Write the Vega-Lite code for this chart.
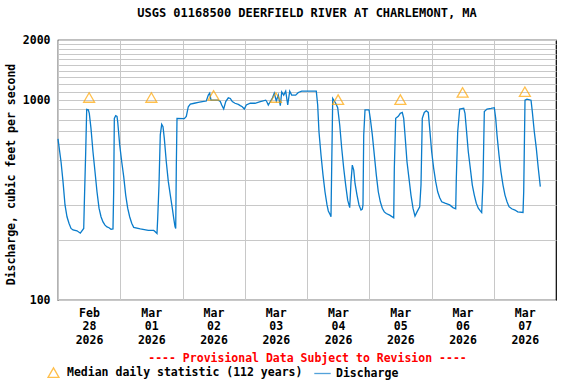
{
  "$schema": "https://vega.github.io/schema/vega-lite/v6.json",
  "width": 498,
  "height": 260,
  "autosize": {"type": "none"},
  "padding": {"left": 58, "top": 40, "right": 20, "bottom": 84},
  "background": "white",
  "title": {"text": "USGS 01168500 DEERFIELD RIVER AT CHARLEMONT, MA", "fontSize": 12, "fontWeight": "bold", "font": "DejaVu Sans Mono", "anchor": "middle", "offset": 14, "color": "black"},
  "data": {"values": [
    {"time": "2026-02-28T00:00", "cfs": 640, "series": "Discharge"},
    {"time": "2026-02-28T01:10", "cfs": 492, "series": "Discharge"},
    {"time": "2026-02-28T01:56", "cfs": 391, "series": "Discharge"},
    {"time": "2026-02-28T02:42", "cfs": 299, "series": "Discharge"},
    {"time": "2026-02-28T03:28", "cfs": 261, "series": "Discharge"},
    {"time": "2026-02-28T04:14", "cfs": 242, "series": "Discharge"},
    {"time": "2026-02-28T05:01", "cfs": 228, "series": "Discharge"},
    {"time": "2026-02-28T05:47", "cfs": 224, "series": "Discharge"},
    {"time": "2026-02-28T07:20", "cfs": 222, "series": "Discharge"},
    {"time": "2026-02-28T08:36", "cfs": 216, "series": "Discharge"},
    {"time": "2026-02-28T09:55", "cfs": 228, "series": "Discharge"},
    {"time": "2026-02-28T10:08", "cfs": 299, "series": "Discharge"},
    {"time": "2026-02-28T10:41", "cfs": 552, "series": "Discharge"},
    {"time": "2026-02-28T11:04", "cfs": 900, "series": "Discharge"},
    {"time": "2026-02-28T11:41", "cfs": 895, "series": "Discharge"},
    {"time": "2026-02-28T12:04", "cfs": 859, "series": "Discharge"},
    {"time": "2026-02-28T12:43", "cfs": 722, "series": "Discharge"},
    {"time": "2026-02-28T13:29", "cfs": 552, "series": "Discharge"},
    {"time": "2026-02-28T14:16", "cfs": 438, "series": "Discharge"},
    {"time": "2026-02-28T15:02", "cfs": 348, "series": "Discharge"},
    {"time": "2026-02-28T15:49", "cfs": 288, "series": "Discharge"},
    {"time": "2026-02-28T16:35", "cfs": 261, "series": "Discharge"},
    {"time": "2026-02-28T17:21", "cfs": 246, "series": "Discharge"},
    {"time": "2026-02-28T18:07", "cfs": 237, "series": "Discharge"},
    {"time": "2026-02-28T18:53", "cfs": 232, "series": "Discharge"},
    {"time": "2026-02-28T19:40", "cfs": 230, "series": "Discharge"},
    {"time": "2026-02-28T20:26", "cfs": 226, "series": "Discharge"},
    {"time": "2026-02-28T21:12", "cfs": 227, "series": "Discharge"},
    {"time": "2026-02-28T21:28", "cfs": 348, "series": "Discharge"},
    {"time": "2026-02-28T21:43", "cfs": 811, "series": "Discharge"},
    {"time": "2026-02-28T22:15", "cfs": 836, "series": "Discharge"},
    {"time": "2026-02-28T22:45", "cfs": 830, "series": "Discharge"},
    {"time": "2026-02-28T23:01", "cfs": 780, "series": "Discharge"},
    {"time": "2026-02-28T23:47", "cfs": 597, "series": "Discharge"},
    {"time": "2026-03-01T00:34", "cfs": 492, "series": "Discharge"},
    {"time": "2026-03-01T01:20", "cfs": 414, "series": "Discharge"},
    {"time": "2026-03-01T02:06", "cfs": 335, "series": "Discharge"},
    {"time": "2026-03-01T02:52", "cfs": 288, "series": "Discharge"},
    {"time": "2026-03-01T03:38", "cfs": 261, "series": "Discharge"},
    {"time": "2026-03-01T04:25", "cfs": 242, "series": "Discharge"},
    {"time": "2026-03-01T05:11", "cfs": 231, "series": "Discharge"},
    {"time": "2026-03-01T07:44", "cfs": 227, "series": "Discharge"},
    {"time": "2026-03-01T10:49", "cfs": 223, "series": "Discharge"},
    {"time": "2026-03-01T12:54", "cfs": 223, "series": "Discharge"},
    {"time": "2026-03-01T13:24", "cfs": 220, "series": "Discharge"},
    {"time": "2026-03-01T14:10", "cfs": 215, "series": "Discharge"},
    {"time": "2026-03-01T14:26", "cfs": 256, "series": "Discharge"},
    {"time": "2026-03-01T14:56", "cfs": 376, "series": "Discharge"},
    {"time": "2026-03-01T15:26", "cfs": 670, "series": "Discharge"},
    {"time": "2026-03-01T15:59", "cfs": 757, "series": "Discharge"},
    {"time": "2026-03-01T16:29", "cfs": 737, "series": "Discharge"},
    {"time": "2026-03-01T16:59", "cfs": 644, "series": "Discharge"},
    {"time": "2026-03-01T17:45", "cfs": 492, "series": "Discharge"},
    {"time": "2026-03-01T18:32", "cfs": 391, "series": "Discharge"},
    {"time": "2026-03-01T19:18", "cfs": 335, "series": "Discharge"},
    {"time": "2026-03-01T20:04", "cfs": 288, "series": "Discharge"},
    {"time": "2026-03-01T20:37", "cfs": 256, "series": "Discharge"},
    {"time": "2026-03-01T21:07", "cfs": 233, "series": "Discharge"},
    {"time": "2026-03-01T21:23", "cfs": 228, "series": "Discharge"},
    {"time": "2026-03-01T21:37", "cfs": 465, "series": "Discharge"},
    {"time": "2026-03-01T21:53", "cfs": 811, "series": "Discharge"},
    {"time": "2026-03-02T00:41", "cfs": 808, "series": "Discharge"},
    {"time": "2026-03-02T01:28", "cfs": 830, "series": "Discharge"},
    {"time": "2026-03-02T02:14", "cfs": 927, "series": "Discharge"},
    {"time": "2026-03-02T03:01", "cfs": 955, "series": "Discharge"},
    {"time": "2026-03-02T04:33", "cfs": 965, "series": "Discharge"},
    {"time": "2026-03-02T06:05", "cfs": 975, "series": "Discharge"},
    {"time": "2026-03-02T07:38", "cfs": 983, "series": "Discharge"},
    {"time": "2026-03-02T09:11", "cfs": 990, "series": "Discharge"},
    {"time": "2026-03-02T09:57", "cfs": 1060, "series": "Discharge"},
    {"time": "2026-03-02T10:29", "cfs": 1085, "series": "Discharge"},
    {"time": "2026-03-02T10:59", "cfs": 1000, "series": "Discharge"},
    {"time": "2026-03-02T13:48", "cfs": 1000, "series": "Discharge"},
    {"time": "2026-03-02T14:34", "cfs": 985, "series": "Discharge"},
    {"time": "2026-03-02T15:07", "cfs": 946, "series": "Discharge"},
    {"time": "2026-03-02T15:53", "cfs": 903, "series": "Discharge"},
    {"time": "2026-03-02T16:40", "cfs": 983, "series": "Discharge"},
    {"time": "2026-03-02T17:40", "cfs": 1027, "series": "Discharge"},
    {"time": "2026-03-02T18:26", "cfs": 1020, "series": "Discharge"},
    {"time": "2026-03-02T19:12", "cfs": 983, "series": "Discharge"},
    {"time": "2026-03-02T20:14", "cfs": 965, "series": "Discharge"},
    {"time": "2026-03-02T21:31", "cfs": 953, "series": "Discharge"},
    {"time": "2026-03-02T22:17", "cfs": 939, "series": "Discharge"},
    {"time": "2026-03-02T23:03", "cfs": 927, "series": "Discharge"},
    {"time": "2026-03-02T23:50", "cfs": 903, "series": "Discharge"},
    {"time": "2026-03-03T00:36", "cfs": 946, "series": "Discharge"},
    {"time": "2026-03-03T02:08", "cfs": 965, "series": "Discharge"},
    {"time": "2026-03-03T03:57", "cfs": 965, "series": "Discharge"},
    {"time": "2026-03-03T06:00", "cfs": 983, "series": "Discharge"},
    {"time": "2026-03-03T08:05", "cfs": 1000, "series": "Discharge"},
    {"time": "2026-03-03T08:28", "cfs": 985, "series": "Discharge"},
    {"time": "2026-03-03T09:05", "cfs": 946, "series": "Discharge"},
    {"time": "2026-03-03T09:51", "cfs": 985, "series": "Discharge"},
    {"time": "2026-03-03T10:37", "cfs": 1020, "series": "Discharge"},
    {"time": "2026-03-03T11:23", "cfs": 1085, "series": "Discharge"},
    {"time": "2026-03-03T12:10", "cfs": 990, "series": "Discharge"},
    {"time": "2026-03-03T12:56", "cfs": 1060, "series": "Discharge"},
    {"time": "2026-03-03T13:43", "cfs": 939, "series": "Discharge"},
    {"time": "2026-03-03T14:15", "cfs": 1100, "series": "Discharge"},
    {"time": "2026-03-03T15:01", "cfs": 1060, "series": "Discharge"},
    {"time": "2026-03-03T15:47", "cfs": 1110, "series": "Discharge"},
    {"time": "2026-03-03T16:34", "cfs": 946, "series": "Discharge"},
    {"time": "2026-03-03T17:20", "cfs": 1110, "series": "Discharge"},
    {"time": "2026-03-03T18:06", "cfs": 1060, "series": "Discharge"},
    {"time": "2026-03-03T19:38", "cfs": 1060, "series": "Discharge"},
    {"time": "2026-03-03T20:39", "cfs": 1093, "series": "Discharge"},
    {"time": "2026-03-03T21:58", "cfs": 1110, "series": "Discharge"},
    {"time": "2026-03-04T03:35", "cfs": 1110, "series": "Discharge"},
    {"time": "2026-03-04T04:07", "cfs": 946, "series": "Discharge"},
    {"time": "2026-03-04T04:37", "cfs": 695, "series": "Discharge"},
    {"time": "2026-03-04T05:24", "cfs": 532, "series": "Discharge"},
    {"time": "2026-03-04T06:10", "cfs": 423, "series": "Discharge"},
    {"time": "2026-03-04T06:56", "cfs": 348, "series": "Discharge"},
    {"time": "2026-03-04T07:43", "cfs": 299, "series": "Discharge"},
    {"time": "2026-03-04T08:13", "cfs": 279, "series": "Discharge"},
    {"time": "2026-03-04T08:59", "cfs": 266, "series": "Discharge"},
    {"time": "2026-03-04T09:15", "cfs": 261, "series": "Discharge"},
    {"time": "2026-03-04T09:31", "cfs": 456, "series": "Discharge"},
    {"time": "2026-03-04T09:55", "cfs": 1020, "series": "Discharge"},
    {"time": "2026-03-04T10:32", "cfs": 990, "series": "Discharge"},
    {"time": "2026-03-04T11:04", "cfs": 965, "series": "Discharge"},
    {"time": "2026-03-04T11:50", "cfs": 917, "series": "Discharge"},
    {"time": "2026-03-04T12:37", "cfs": 751, "series": "Discharge"},
    {"time": "2026-03-04T13:23", "cfs": 575, "series": "Discharge"},
    {"time": "2026-03-04T14:09", "cfs": 456, "series": "Discharge"},
    {"time": "2026-03-04T14:55", "cfs": 376, "series": "Discharge"},
    {"time": "2026-03-04T15:41", "cfs": 316, "series": "Discharge"},
    {"time": "2026-03-04T16:28", "cfs": 290, "series": "Discharge"},
    {"time": "2026-03-04T16:58", "cfs": 391, "series": "Discharge"},
    {"time": "2026-03-04T17:28", "cfs": 473, "series": "Discharge"},
    {"time": "2026-03-04T18:01", "cfs": 447, "series": "Discharge"},
    {"time": "2026-03-04T18:31", "cfs": 383, "series": "Discharge"},
    {"time": "2026-03-04T19:17", "cfs": 335, "series": "Discharge"},
    {"time": "2026-03-04T20:03", "cfs": 299, "series": "Discharge"},
    {"time": "2026-03-04T20:49", "cfs": 282, "series": "Discharge"},
    {"time": "2026-03-04T21:19", "cfs": 285, "series": "Discharge"},
    {"time": "2026-03-04T21:35", "cfs": 299, "series": "Discharge"},
    {"time": "2026-03-04T21:52", "cfs": 670, "series": "Discharge"},
    {"time": "2026-03-04T22:22", "cfs": 894, "series": "Discharge"},
    {"time": "2026-03-04T23:54", "cfs": 894, "series": "Discharge"},
    {"time": "2026-03-05T00:24", "cfs": 811, "series": "Discharge"},
    {"time": "2026-03-05T01:11", "cfs": 670, "series": "Discharge"},
    {"time": "2026-03-05T01:57", "cfs": 532, "series": "Discharge"},
    {"time": "2026-03-05T02:43", "cfs": 423, "series": "Discharge"},
    {"time": "2026-03-05T03:29", "cfs": 348, "series": "Discharge"},
    {"time": "2026-03-05T04:16", "cfs": 310, "series": "Discharge"},
    {"time": "2026-03-05T05:02", "cfs": 288, "series": "Discharge"},
    {"time": "2026-03-05T05:48", "cfs": 276, "series": "Discharge"},
    {"time": "2026-03-05T06:34", "cfs": 271, "series": "Discharge"},
    {"time": "2026-03-05T07:53", "cfs": 266, "series": "Discharge"},
    {"time": "2026-03-05T09:26", "cfs": 258, "series": "Discharge"},
    {"time": "2026-03-05T09:40", "cfs": 456, "series": "Discharge"},
    {"time": "2026-03-05T10:12", "cfs": 811, "series": "Discharge"},
    {"time": "2026-03-05T11:12", "cfs": 830, "series": "Discharge"},
    {"time": "2026-03-05T11:58", "cfs": 859, "series": "Discharge"},
    {"time": "2026-03-05T12:44", "cfs": 868, "series": "Discharge"},
    {"time": "2026-03-05T13:17", "cfs": 811, "series": "Discharge"},
    {"time": "2026-03-05T13:47", "cfs": 670, "series": "Discharge"},
    {"time": "2026-03-05T14:33", "cfs": 492, "series": "Discharge"},
    {"time": "2026-03-05T15:19", "cfs": 406, "series": "Discharge"},
    {"time": "2026-03-05T16:05", "cfs": 335, "series": "Discharge"},
    {"time": "2026-03-05T16:52", "cfs": 288, "series": "Discharge"},
    {"time": "2026-03-05T17:38", "cfs": 263, "series": "Discharge"},
    {"time": "2026-03-05T18:25", "cfs": 276, "series": "Discharge"},
    {"time": "2026-03-05T19:27", "cfs": 293, "series": "Discharge"},
    {"time": "2026-03-05T19:57", "cfs": 376, "series": "Discharge"},
    {"time": "2026-03-05T20:27", "cfs": 811, "series": "Discharge"},
    {"time": "2026-03-05T21:13", "cfs": 868, "series": "Discharge"},
    {"time": "2026-03-05T21:59", "cfs": 885, "series": "Discharge"},
    {"time": "2026-03-05T22:46", "cfs": 868, "series": "Discharge"},
    {"time": "2026-03-05T23:18", "cfs": 722, "series": "Discharge"},
    {"time": "2026-03-06T00:04", "cfs": 552, "series": "Discharge"},
    {"time": "2026-03-06T00:50", "cfs": 456, "series": "Discharge"},
    {"time": "2026-03-06T01:37", "cfs": 391, "series": "Discharge"},
    {"time": "2026-03-06T02:23", "cfs": 348, "series": "Discharge"},
    {"time": "2026-03-06T03:10", "cfs": 325, "series": "Discharge"},
    {"time": "2026-03-06T03:56", "cfs": 310, "series": "Discharge"},
    {"time": "2026-03-06T05:12", "cfs": 305, "series": "Discharge"},
    {"time": "2026-03-06T07:01", "cfs": 299, "series": "Discharge"},
    {"time": "2026-03-06T08:17", "cfs": 290, "series": "Discharge"},
    {"time": "2026-03-06T09:20", "cfs": 286, "series": "Discharge"},
    {"time": "2026-03-06T09:34", "cfs": 406, "series": "Discharge"},
    {"time": "2026-03-06T10:06", "cfs": 695, "series": "Discharge"},
    {"time": "2026-03-06T10:52", "cfs": 903, "series": "Discharge"},
    {"time": "2026-03-06T12:25", "cfs": 910, "series": "Discharge"},
    {"time": "2026-03-06T12:55", "cfs": 859, "series": "Discharge"},
    {"time": "2026-03-06T13:25", "cfs": 722, "series": "Discharge"},
    {"time": "2026-03-06T14:11", "cfs": 552, "series": "Discharge"},
    {"time": "2026-03-06T14:58", "cfs": 456, "series": "Discharge"},
    {"time": "2026-03-06T15:44", "cfs": 376, "series": "Discharge"},
    {"time": "2026-03-06T16:30", "cfs": 335, "series": "Discharge"},
    {"time": "2026-03-06T17:16", "cfs": 305, "series": "Discharge"},
    {"time": "2026-03-06T18:02", "cfs": 288, "series": "Discharge"},
    {"time": "2026-03-06T18:49", "cfs": 279, "series": "Discharge"},
    {"time": "2026-03-06T19:21", "cfs": 274, "series": "Discharge"},
    {"time": "2026-03-06T19:51", "cfs": 391, "series": "Discharge"},
    {"time": "2026-03-06T20:22", "cfs": 876, "series": "Discharge"},
    {"time": "2026-03-06T21:24", "cfs": 903, "series": "Discharge"},
    {"time": "2026-03-06T22:56", "cfs": 910, "series": "Discharge"},
    {"time": "2026-03-07T00:13", "cfs": 917, "series": "Discharge"},
    {"time": "2026-03-07T00:45", "cfs": 811, "series": "Discharge"},
    {"time": "2026-03-07T01:15", "cfs": 670, "series": "Discharge"},
    {"time": "2026-03-07T02:01", "cfs": 532, "series": "Discharge"},
    {"time": "2026-03-07T02:47", "cfs": 438, "series": "Discharge"},
    {"time": "2026-03-07T03:34", "cfs": 376, "series": "Discharge"},
    {"time": "2026-03-07T04:20", "cfs": 335, "series": "Discharge"},
    {"time": "2026-03-07T05:07", "cfs": 310, "series": "Discharge"},
    {"time": "2026-03-07T05:53", "cfs": 293, "series": "Discharge"},
    {"time": "2026-03-07T06:55", "cfs": 286, "series": "Discharge"},
    {"time": "2026-03-07T08:11", "cfs": 282, "series": "Discharge"},
    {"time": "2026-03-07T09:14", "cfs": 276, "series": "Discharge"},
    {"time": "2026-03-07T11:17", "cfs": 274, "series": "Discharge"},
    {"time": "2026-03-07T11:33", "cfs": 348, "series": "Discharge"},
    {"time": "2026-03-07T12:03", "cfs": 1000, "series": "Discharge"},
    {"time": "2026-03-07T12:49", "cfs": 1012, "series": "Discharge"},
    {"time": "2026-03-07T14:22", "cfs": 1000, "series": "Discharge"},
    {"time": "2026-03-07T14:52", "cfs": 876, "series": "Discharge"},
    {"time": "2026-03-07T15:38", "cfs": 695, "series": "Discharge"},
    {"time": "2026-03-07T16:24", "cfs": 575, "series": "Discharge"},
    {"time": "2026-03-07T17:10", "cfs": 456, "series": "Discharge"},
    {"time": "2026-03-07T17:57", "cfs": 369, "series": "Discharge"},
    {"time": "2026-02-28T12:00", "cfs": 1031, "series": "Median daily statistic (112 years)"},
    {"time": "2026-03-01T12:00", "cfs": 1031, "series": "Median daily statistic (112 years)"},
    {"time": "2026-03-02T12:00", "cfs": 1056, "series": "Median daily statistic (112 years)"},
    {"time": "2026-03-03T12:00", "cfs": 1031, "series": "Median daily statistic (112 years)"},
    {"time": "2026-03-04T12:00", "cfs": 1006, "series": "Median daily statistic (112 years)"},
    {"time": "2026-03-05T12:00", "cfs": 1006, "series": "Median daily statistic (112 years)"},
    {"time": "2026-03-06T12:00", "cfs": 1093, "series": "Median daily statistic (112 years)"},
    {"time": "2026-03-07T12:00", "cfs": 1102, "series": "Median daily statistic (112 years)"}
  ]},
  "encoding": {
    "x": {
      "field": "time", "type": "temporal",
      "scale": {"domain": [{"year": 2026, "month": 2, "date": 28}, {"year": 2026, "month": 3, "date": 8}]},
      "axis": {
        "values": [
          {"year": 2026, "month": 2, "date": 28}, {"year": 2026, "month": 3, "date": 1},
          {"year": 2026, "month": 3, "date": 2}, {"year": 2026, "month": 3, "date": 3},
          {"year": 2026, "month": 3, "date": 4}, {"year": 2026, "month": 3, "date": 5},
          {"year": 2026, "month": 3, "date": 6}, {"year": 2026, "month": 3, "date": 7}
        ],
        "labelExpr": "[timeFormat(datum.value, '%b'), timeFormat(datum.value, '%d'), timeFormat(datum.value, '%Y')]",
        "labelOffset": 31,
        "labelLineHeight": 13.5,
        "labelPadding": 7,
        "labelBound": false,
        "labelOverlap": false,
        "labelFlush": false,
        "title": "---- Provisional Data Subject to Revision ----",
        "titleColor": "#FF0000",
        "titlePadding": 7
      }
    },
    "y": {
      "field": "cfs", "type": "quantitative",
      "scale": {"type": "log", "domain": [100, 2000], "nice": false},
      "axis": {
        "values": [100, 200, 300, 400, 500, 600, 700, 800, 900, 1000, 1100, 1200, 1300, 1400, 1500, 1600, 1700, 1800, 1900, 2000],
        "labelExpr": "datum.value == 100 || datum.value == 1000 || datum.value == 2000 ? datum.value : ''",
        "labelPadding": 8,
        "title": "Discharge, cubic feet per second",
        "titleX": -42,
        "titleY": 134
      }
    },
    "color": {"field": "series", "type": "nominal",
      "scale": {"domain": ["Median daily statistic (112 years)", "Discharge"], "range": ["#FFA500", "#0A7CCB"]},
      "legend": {"title": null, "orient": "none", "legendX": -11, "legendY": 326, "direction": "horizontal", "columns": 2}}
  },
  "layer": [
    {
      "transform": [{"filter": "datum.series == 'Discharge'"}],
      "mark": {"type": "line", "strokeWidth": 1.3, "interpolate": "linear"}
    },
    {
      "transform": [{"filter": "datum.series != 'Discharge'"}],
      "mark": {"type": "point", "filled": false, "size": 120, "strokeWidth": 1.3},
      "encoding": {
        "shape": {"field": "series", "type": "nominal",
          "scale": {"domain": ["Median daily statistic (112 years)", "Discharge"], "range": ["triangle-up", "M-1.5,0H1.5"]},
          "legend": {"title": null, "orient": "none", "legendX": -11, "legendY": 326, "direction": "horizontal", "columns": 2}}
      }
    }
  ],
  "config": {
    "font": "DejaVu Sans Mono",
    "view": {"stroke": "black", "strokeWidth": 1.2},
    "axis": {
      "grid": true, "gridColor": "#c8c8c8", "gridWidth": 1, "gridOpacity": 1,
      "ticks": false, "domain": false,
      "labelFont": "DejaVu Sans Mono", "labelFontSize": 11.5, "labelFontWeight": "bold", "labelColor": "black",
      "titleFont": "DejaVu Sans Mono", "titleFontSize": 11.5, "titleFontWeight": "bold", "titleColor": "black"
    },
    "legend": {
      "labelFont": "DejaVu Sans Mono", "labelFontSize": 11.5, "labelFontWeight": "bold", "labelColor": "black",
      "symbolSize": 120, "symbolStrokeWidth": 1.3, "labelOffset": 7, "columnPadding": 8, "labelLimit": 400
    }
  }
}
